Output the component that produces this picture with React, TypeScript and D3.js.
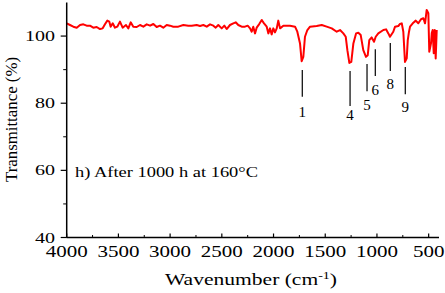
import React from "react";
import * as d3 from "d3";

// FTIR spectrum
const wavenumbers = [
  4000, 3968, 3936, 3903, 3871, 3839, 3807, 3775, 3743, 3710, 3678, 3652, 3630, 3607, 3588, 3575,
  3555, 3533, 3511, 3485, 3459, 3427, 3404, 3381, 3356, 3323, 3291, 3259, 3226, 3194, 3162, 3130,
  3098, 3066, 3033, 3001, 2969, 2921, 2872, 2824, 2791, 2743, 2711, 2679, 2646, 2614, 2582, 2559,
  2534, 2501, 2476, 2453, 2421, 2389, 2366, 2341, 2308, 2276, 2250, 2227, 2211, 2196, 2179, 2163,
  2140, 2114, 2092, 2066, 2050, 2034, 2018, 2002, 1986, 1969, 1954, 1937, 1905, 1873, 1841, 1792,
  1770, 1744, 1728, 1712, 1696, 1673, 1647, 1583, 1534, 1486, 1437, 1389, 1357, 1325, 1302, 1286,
  1267, 1248, 1228, 1202, 1180, 1157, 1132, 1106, 1089, 1074, 1051, 1028, 1012, 987, 938, 912,
  890, 874, 842, 825, 793, 777, 760, 745, 729, 712, 702, 690, 680, 648, 625, 600,
  574, 551, 535, 519, 503, 494, 477, 470, 461, 451, 441, 432, 422,
];
const transmittance = [
  103.8, 103.3, 102.8, 102.5, 103.3, 103.5, 103.1, 103.1, 102.5, 102.7, 102.1, 102.3, 103.5, 104.6, 104.3, 102.8,
  103.8, 102.5, 102.8, 104.3, 102.5, 103.3, 102.3, 104.1, 102.8, 102.7, 103.3, 102.8, 103.5, 103.1, 103.6, 102.7,
  103.1, 102.5, 103.3, 103.1, 102.8, 102.8, 103.3, 103.1, 103.1, 103.3, 103.0, 103.3, 102.8, 103.5, 103.1, 102.5,
  103.3, 102.3, 103.1, 102.1, 103.3, 103.8, 104.1, 103.3, 102.8, 102.8, 103.1, 102.3, 101.3, 102.8, 100.8, 102.5,
  103.5, 104.8, 103.8, 102.8, 100.8, 102.3, 100.5, 102.3, 101.1, 102.3, 104.6, 102.3, 103.1, 103.1, 103.1, 102.8,
  101.3, 97.8, 92.5, 93.8, 99.8, 101.8, 102.8, 103.0, 103.3, 102.8, 102.3, 101.3, 101.8, 100.8, 99.8, 95.8,
  92.0, 92.3, 97.8, 100.8, 101.0, 100.3, 95.8, 93.8, 94.3, 98.8, 99.6, 98.3, 99.8, 100.8, 101.8, 102.0,
  100.8, 99.8, 101.3, 102.8, 103.0, 103.6, 103.8, 101.3, 92.3, 93.4, 98.8, 101.3, 102.8, 104.0, 104.6, 103.8,
  105.0, 105.3, 103.8, 107.8, 106.8, 95.3, 97.9, 100.9, 101.8, 94.9, 101.8, 93.3, 101.8,
];

const xTicks = [4000, 3500, 3000, 2500, 2000, 1500, 1000, 500];
const xMinorTicks = [3750, 3250, 2750, 2250, 1750, 1250, 750];
const yTicks = [40, 60, 80, 100];
const yMinorTicks = [50, 70, 90];

// peak annotations: label, wavenumber, line top / bottom and label position (in %)
const peakLabels = ["1", "4", "5", "6", "8", "9"];
const peakWavenumbers = [1722, 1260, 1096, 1016, 871, 726];
const peakLineTop = [89.9, 89.6, 91.7, 96.1, 97.9, 90.8];
const peakLineBottom = [81.9, 79.2, 83.6, 88.1, 89.6, 82.7];
const peakLabelAt = [77.5, 76.6, 79.5, 84.1, 85.7, 78.8];

const W = 445;
const H = 293;
const font = "'Liberation Serif', 'Times New Roman', serif";

export default function App() {
  const x = d3.scaleLinear().domain([4000, 400]).range([66.7, 439]);
  const y = d3.scaleLinear().domain([40, 110]).range([237.5, 2.5]);

  const pts: [number, number][] = wavenumbers.map((w, i) => [w, transmittance[i]]);
  const line = d3
    .line<[number, number]>()
    .x((d) => x(d[0]))
    .y((d) => y(d[1]));

  const x0 = x(4000);
  const y0 = y(40);

  return (
    <svg
      width={W}
      height={H}
      style={{ position: "fixed", left: 0, top: 0, background: "#fff" }}
      fontFamily={font}
    >
      <rect width={W} height={H} fill="#fff" />
      <path d={line(pts) || ""} fill="none" stroke="#ff0000" strokeWidth={2} strokeLinejoin="round" />

      {/* axes */}
      <line x1={x0} x2={x0} y1={y(110)} y2={y0} stroke="#000" strokeWidth={1.5} />
      <line x1={x0} x2={x(400)} y1={y0} y2={y0} stroke="#000" strokeWidth={1.5} />

      {xTicks.map((t) => (
        <g key={"x" + t}>
          <line x1={x(t)} x2={x(t)} y1={y0} y2={y0 - 4} stroke="#000" strokeWidth={1.2} />
          <text
            x={x(t)}
            y={257}
            fontSize={17}
            textAnchor="middle"
            textLength={String(t).length * 10.5}
            lengthAdjust="spacingAndGlyphs"
          >
            {t}
          </text>
        </g>
      ))}
      {xMinorTicks.map((t) => (
        <line key={"xm" + t} x1={x(t)} x2={x(t)} y1={y0} y2={y0 - 2.5} stroke="#000" strokeWidth={1} />
      ))}

      {yTicks.map((t) => (
        <g key={"y" + t}>
          <line x1={x0 - 6} x2={x0} y1={y(t)} y2={y(t)} stroke="#000" strokeWidth={1.2} />
          <text
            x={55}
            y={y(t) + 5}
            fontSize={15}
            textAnchor="end"
            textLength={String(t).length * 10}
            lengthAdjust="spacingAndGlyphs"
          >
            {t}
          </text>
        </g>
      ))}
      {yMinorTicks.map((t) => (
        <line key={"ym" + t} x1={x0 - 3.5} x2={x0} y1={y(t)} y2={y(t)} stroke="#000" strokeWidth={1} />
      ))}

      {/* axis titles */}
      <text x={165} y={285} fontSize={17} textLength={172} lengthAdjust="spacingAndGlyphs">
        Wavenumber (cm
        <tspan dy={-6} fontSize={11}>-1</tspan>
        <tspan dy={6}>)</tspan>
      </text>
      <text
        transform="translate(17,182) rotate(-90)"
        fontSize={16}
        textLength={125}
        lengthAdjust="spacingAndGlyphs"
      >
        Transmittance (%)
      </text>

      <text x={75} y={177} fontSize={15} textLength={183} lengthAdjust="spacingAndGlyphs">
        h) After 1000 h at 160°C
      </text>

      {/* peak markers */}
      {peakLabels.map((p, i) => (
        <g key={"p" + p}>
          <line
            x1={x(peakWavenumbers[i])}
            x2={x(peakWavenumbers[i])}
            y1={y(peakLineTop[i])}
            y2={y(peakLineBottom[i])}
            stroke="#000"
            strokeWidth={1.2}
          />
          <text
            x={x(peakWavenumbers[i])}
            y={y(peakLabelAt[i])}
            dy="0.35em"
            fontSize={15}
            textAnchor="middle"
          >
            {p}
          </text>
        </g>
      ))}
    </svg>
  );
}
